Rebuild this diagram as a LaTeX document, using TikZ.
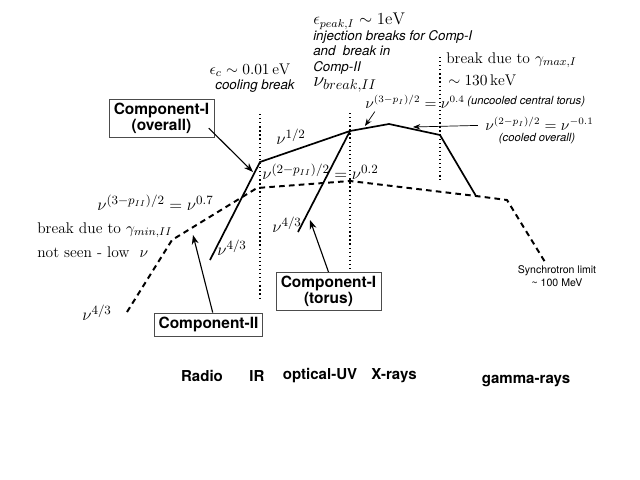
\documentclass[tikz,border=0pt]{standalone}
\usepackage{amsmath}
\usepackage{fontspec}
\setsansfont{TeX Gyre Heros}
\usetikzlibrary{arrows.meta,positioning}

\begin{document}
\begin{tikzpicture}[
  x=0.025cm, y=-0.025cm,
  spec/.style={line width=1.2pt, line join=round},
  specII/.style={line width=1.4pt, dash pattern=on 4pt off 3pt},
  brk/.style={dotted, line width=0.9pt},
  comp/.style={rectangle, draw=black!70, fill=white, align=center,
    font=\sffamily\bfseries\fontsize{11}{11}\selectfont,
    minimum width=2.63cm, inner sep=3pt},
  note/.style={font=\sffamily\itshape\fontsize{9.5}{11}\selectfont, inner sep=0pt},
  small/.style={font=\sffamily\itshape\fontsize{8}{9}\selectfont, inner sep=0pt},
  lbl/.style={font=\fontsize{10.5}{13}\selectfont, inner sep=0pt, anchor=west},
  big/.style={font=\fontsize{13}{15}\selectfont, inner sep=0pt, anchor=west},
  band/.style={font=\sffamily\bfseries\fontsize{10.7}{12}\selectfont, inner sep=0pt},
  arr/.style={-Stealth, line width=0.8pt}
]
\useasboundingbox (0,0) rectangle (640,480);

% kinks of the spectra
\coordinate (a0) at (210,260);
\coordinate (a1) at (260,162);
\coordinate (a2) at (350,131);
\coordinate (a3) at (389,124);
\coordinate (a4) at (440,135);
\coordinate (a5) at (476,196);
\coordinate (t0) at (298,232);
\coordinate (b0) at (127,312);
\coordinate (b1) at (172,240);
\coordinate (b2) at (257,188);
\coordinate (b3) at (350,181);
\coordinate (b5) at (507,200);
\coordinate (b6) at (545,262);

% break frequencies
\draw[brk] (260,114) -- (260,298);
\draw[brk] (350,113) -- (350,270);
\draw[brk] (440,57) -- (440,180);

% spectra
\draw[spec] (a0) -- (a1) -- (a2) -- (a3) -- (a4) -- (a5);
\draw[spec] (t0) -- (a2);
\draw[specII] (b0) -- (b1) -- (b2) -- (b3) -- (a5) -- (b5) -- (b6);

% labels on top
\node[lbl, anchor=center, font=\fontsize{11}{13}\selectfont] (ec) at (250,70) {$\epsilon_c \sim 0.01\,\mathrm{eV}$};
\node[note] (cool) at (255,86) {cooling break};
\node[note, anchor=north west, align=left, font=\sffamily\itshape\fontsize{9.5}{11}\selectfont]
  (peak) at (313,13)
  {{\fontsize{12}{11}\selectfont$\epsilon_{peak,I} \sim 1\mathrm{eV}$}\\
   injection breaks for Comp-I\\
   and\ \ break in\\
   Comp-II\\
   {\fontsize{14.5}{11.5}\selectfont$\nu_{break,II}$}};
\node[lbl, font=\fontsize{11}{13}\selectfont] (gmax) at (446,60) {break due to $\gamma_{max,I}$};
\node[lbl, font=\fontsize{11}{13}\selectfont] (kev) at (448,80) {$\sim 130\,\mathrm{keV}$};
\node[lbl] (lt) at (365,102) {$\nu^{(3-p_I)/2} = \nu^{0.4}$};
\node[small, anchor=west] (unc) at (467,102) {(uncooled central torus)};
\node[lbl] (lc) at (485,124) {$\nu^{(2-p_I)/2} = \nu^{-0.1}$};
\node[small] (cld) at (537,139) {(cooled overall)};
\node[big, anchor=center] (half) at (291,137) {$\nu^{1/2}$};
\node[big] (lII) at (262,172) {$\nu^{(2-p_{II})/2} = \nu^{0.2}$};
\node[big] (lIIa) at (97,203) {$\nu^{(3-p_{II})/2} = \nu^{0.7}$};
\node[lbl, font=\fontsize{11}{13}\selectfont] (gmin) at (37,230) {break due to $\gamma_{min,II}$};
\node[lbl, font=\fontsize{11}{13}\selectfont] (low) at (37,252) {not seen - low\ \ $\nu$};
\node[big] (f1) at (82,313) {$\nu^{4/3}$};
\node[big] (f2) at (217,248) {$\nu^{4/3}$};
\node[big] (f3) at (272,225) {$\nu^{4/3}$};
\node[font=\sffamily\fontsize{7.5}{9.5}\selectfont, align=center, inner sep=0pt]
  (syn) at (557,276) {Synchrotron limit\\\textasciitilde\ 100 MeV};

% components
\node[comp] (ovl) at (161.5,118.5) {Component-I\\(overall)};
\node[comp] (cII) at (208.5,324.5) {Component-II};
\node[comp] (tor) at (328.5,291.5) {Component-I\\(torus)};

\coordinate (pA) at (253,172);
\coordinate (pB) at (193,235);
\coordinate (pC) at (310,220);
\coordinate (pD) at (365,126);
\coordinate (pE) at (413,127);
\draw[arr] ([xshift=-4pt,yshift=7pt]ovl.south east) -- (pA);
\draw[arr] ([xshift=3pt]cII.north) -- (pB);
\draw[arr] (tor.north) -- (pC);
\draw[-Stealth, line width=0.5pt] ([xshift=7pt,yshift=-2pt]lt.south west) -- (pD);
\draw[-Stealth, line width=0.5pt] ([xshift=-5pt,yshift=-1pt]lc.west) -- (pE);

% bands
\node[band] (radio) at (202,376) {Radio};
\node[band] (ir) at (257,376) {IR};
\node[band] (opt) at (320,376) {optical-UV};
\node[band] (xr) at (394,376) {X-rays};
\node[band] (gam) at (526,381) {gamma-rays};
\end{tikzpicture}
\end{document}
